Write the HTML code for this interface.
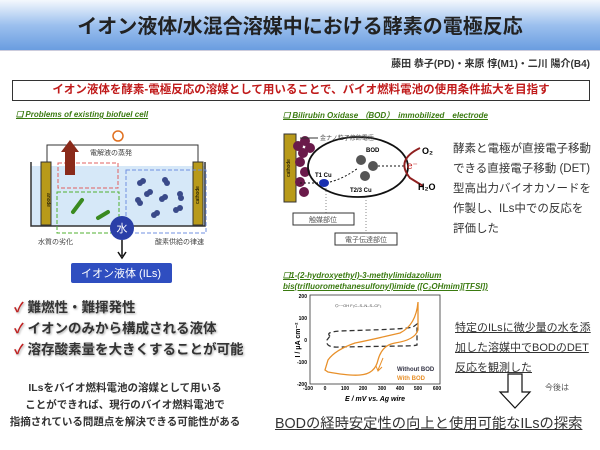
<!DOCTYPE html><html><head><meta charset="utf-8"><style>
body{margin:0;width:600px;height:450px;position:relative;background:#fff;font-family:"Liberation Sans","Noto Sans CJK JP",sans-serif;overflow:hidden}
.a{position:absolute;white-space:nowrap}
.hd{color:#3a7a10;font-style:italic;font-weight:bold;text-decoration:underline;font-size:8px}
</style></head><body>
<div class="a" style="left:0;top:0;width:600px;height:50px;background:linear-gradient(#f4f8fd,#9cc0ee 50%,#6a9de0);border-bottom:1px solid #ccd"></div>
<div class="a" style="left:0;top:10px;width:600px;text-align:center;font-size:20px;font-weight:bold;color:#222">イオン液体/水混合溶媒中における酵素の電極反応</div>
<div class="a" style="right:10px;top:55px;font-size:10px;font-weight:bold;color:#333">藤田 恭子(PD)・来原 惇(M1)・二川 陽介(B4)</div>
<div class="a" style="left:12px;top:80px;width:576px;height:19px;border:1px solid #333;color:#c01a1a;font-weight:bold;font-size:11.5px;text-align:center;line-height:19px">イオン液体を酵素-電極反応の溶媒として用いることで、バイオ燃料電池の使用条件拡大を目指す</div>
<div class="a hd" style="left:16px;top:110px">❑ Problems of existing biofuel cell</div>
<div class="a hd" style="left:283px;top:110px">❑ Bilirubin Oxidase （BOD）　immobilized　electrode</div>
<svg class="a" style="left:0;top:0" width="600" height="450">
<rect x="31" y="166" width="174" height="60" fill="#d6e8f8"/>
<path d="M31 162V226H205V162" fill="none" stroke="#333" stroke-width="1.5"/>
<path d="M47 163V145H198V163" fill="none" stroke="#333"/>
<circle cx="118" cy="136" r="5" fill="#fff" stroke="#e07020" stroke-width="1.5"/>
<rect x="41" y="162" width="10" height="63" fill="#b89a1a" stroke="#333"/>
<rect x="193" y="162" width="10" height="63" fill="#b89a1a" stroke="#333"/>
<text x="47" y="200" font-size="5" transform="rotate(90 47 200)" text-anchor="middle">anode</text>
<text x="199" y="195" font-size="5" transform="rotate(-90 199 195)" text-anchor="middle">cathode</text>
<rect x="58" y="163" width="60" height="25" fill="none" stroke="#e06060" stroke-dasharray="4,2"/>
<rect x="57" y="192" width="62" height="41" fill="none" stroke="#50b030" stroke-dasharray="4,2"/>
<rect x="126" y="170" width="80" height="63" fill="none" stroke="#7090e0" stroke-dasharray="4,2"/>
<path d="M65 175V152H61L70 140L79 152H75V175Z" fill="#8a2a1a"/>
<line x1="73" y1="212" x2="82" y2="200" stroke="#3a8a20" stroke-width="4" stroke-linecap="round"/>
<line x1="98" y1="218" x2="108" y2="212" stroke="#3a8a20" stroke-width="4" stroke-linecap="round"/>
<g fill="#3a4a8a"><circle cx="140" cy="183" r="3"/><circle cx="143" cy="181" r="3"/><circle cx="165" cy="180" r="3"/><circle cx="167" cy="183" r="3"/><circle cx="147" cy="194" r="3"/><circle cx="150" cy="192" r="3"/><circle cx="138" cy="200" r="3"/><circle cx="140" cy="203" r="3"/><circle cx="162" cy="199" r="3"/><circle cx="165" cy="197" r="3"/><circle cx="180" cy="194" r="3"/><circle cx="181" cy="198" r="3"/><circle cx="176" cy="210" r="3"/><circle cx="180" cy="208" r="3"/><circle cx="154" cy="215" r="3"/><circle cx="157" cy="213" r="3"/></g>
<circle cx="122" cy="228" r="12" fill="#2a3fa8"/>
<text x="122" y="232" font-size="11" fill="#fff" text-anchor="middle">水</text>
<path d="M122 240V256M118 252L122 258L126 252" stroke="#111" stroke-width="1.5" fill="none"/>
<rect x="71" y="263" width="101" height="20" rx="2" fill="#2f4ec0"/>
<text x="121" y="277" font-size="11" fill="#fff" text-anchor="middle">イオン液体 (ILs)</text>
<text x="90" y="155" font-size="7" fill="#444">電解液の蒸発</text>
<text x="38" y="244" font-size="7" fill="#444">水質の劣化</text>
<text x="155" y="244" font-size="7" fill="#444">酸素供給の律速</text>
<rect x="284" y="134" width="12" height="68" fill="#b89a1a" stroke="#333"/>
<text x="290" y="168" font-size="5" transform="rotate(-90 290 168)" text-anchor="middle">cathode</text>
<g fill="#6a1a4a"><circle cx="298" cy="146" r="5"/><circle cx="305" cy="141" r="5"/><circle cx="303" cy="153" r="5"/><circle cx="300" cy="162" r="5"/><circle cx="305" cy="172" r="5"/><circle cx="300" cy="182" r="5"/><circle cx="304" cy="192" r="5"/><circle cx="310" cy="148" r="5"/></g>
<ellipse cx="358" cy="167" rx="50" ry="30" fill="none" stroke="#111" stroke-width="1.8"/>
<ellipse cx="324" cy="183" rx="5" ry="4" fill="#1a30b0"/>
<circle cx="361" cy="160" r="5" fill="#555"/><circle cx="373" cy="166" r="5" fill="#555"/><circle cx="365" cy="176" r="5" fill="#555"/>
<path d="M300 183L320 183M330 182Q345 178 358 168M378 166L405 166" stroke="#111" stroke-dasharray="2,2" fill="none"/>
<text x="407" y="169" font-size="10" fill="#c02020">e⁻</text>
<path d="M420 148Q395 160 410 178L423 186" stroke="#902020" stroke-width="2" fill="none"/>
<text x="422" y="154" font-size="9" font-weight="bold">O₂</text>
<text x="418" y="190" font-size="9" font-weight="bold">H₂O</text>
<text x="320" y="140" font-size="6" fill="#444">金ナノ粒子修飾電極</text>
<line x1="300" y1="138" x2="318" y2="138" stroke="#333"/>
<text x="366" y="152" font-size="6" font-weight="bold">BOD</text>
<text x="315" y="177" font-size="6" font-weight="bold">T1 Cu</text>
<text x="350" y="192" font-size="6" font-weight="bold">T2/3 Cu</text>
<path d="M326 188V213M366 200V233" stroke="#888" stroke-dasharray="1,2"/>
<rect x="293" y="213" width="61" height="12" fill="#fff" stroke="#333"/>
<text x="323" y="222" font-size="7" fill="#555" text-anchor="middle">触媒部位</text>
<rect x="335" y="233" width="62" height="12" fill="#fff" stroke="#333"/>
<text x="366" y="242" font-size="7" fill="#555" text-anchor="middle">電子伝達部位</text>
<rect x="310" y="295" width="130" height="89" fill="none" stroke="#333" stroke-width="0.8"/>
<g font-size="5" font-weight="bold" text-anchor="end"><text x="307" y="298">200</text><text x="307" y="320">100</text><text x="307" y="342">0</text><text x="307" y="364">-100</text><text x="307" y="386">-200</text></g>
<g font-size="5" font-weight="bold" text-anchor="middle"><text x="308" y="390">-100</text><text x="325" y="390">0</text><text x="345" y="390">100</text><text x="363" y="390">200</text><text x="382" y="390">300</text><text x="400" y="390">400</text><text x="418" y="390">500</text><text x="437" y="390">600</text></g>
<text x="375" y="401" font-size="7" font-weight="bold" text-anchor="middle" font-style="italic">E / mV vs. Ag wire</text>
<text x="300" y="340" font-size="7" font-weight="bold" transform="rotate(-90 300 340)" text-anchor="middle">I / μA cm⁻²</text>
<path d="M330 336Q325 332 340 331L370 330Q405 329 413 327L417 324V345Q414 346 400 346L340 347Q325 348 327 340Z" fill="none" stroke="#333" stroke-width="1.3" stroke-dasharray="5,3"/>
<path d="M418 302Q416 325 400 333Q370 340 355 343Q335 350 328 360L325 370L328 372Q350 376 360 375Q375 374 378 360Q382 345 395 343Q415 340 418 330Z" fill="none" stroke="#e8902a" stroke-width="1.3"/>
<path d="M383 358L378 370M376 366L378 371L382 367" stroke="#e8902a" fill="none"/>
<text x="397" y="371" font-size="6" font-weight="bold" fill="#334">Without BOD</text>
<text x="397" y="380" font-size="6" font-weight="bold" fill="#e8902a">With BOD</text>
<text x="335" y="307" font-size="4" fill="#444">⌬~~OH  F₃C–S–N–S–CF₃</text>
<path d="M508 374H522V392H530L515 408L500 392H508Z" fill="#fff" stroke="#111" stroke-width="1.2"/>
</svg>
<div class="a hd" style="left:283px;top:270px;line-height:11px">❑1-(2-hydroxyethyl)-3-methylimidazolium<br>bis(trifluoromethanesulfonyl)imide ([C₂OHmim][TFSI])</div>
<div class="a" style="left:453px;top:139px;font-size:11.5px;line-height:20px;color:#333">酵素と電極が直接電子移動<br>できる直接電子移動 (DET)<br>型高出力バイオカソードを<br>作製し、ILs中での反応を<br>評価した</div>
<div class="a" style="left:455px;top:318px;font-size:11px;line-height:20px;color:#333;text-decoration:underline">特定のILsに微少量の水を添<br>加した溶媒中でBODのDET<br>反応を観測した</div>
<div class="a" style="left:545px;top:382px;font-size:8px;color:#555">今後は</div>
<div class="a" style="left:275px;top:412px;font-size:14.3px;color:#333;text-decoration:underline">BODの経時安定性の向上と使用可能なILsの探索</div>
<div class="a" style="left:14px;top:297px;font-size:13.5px;font-weight:bold;line-height:21px;color:#333;text-shadow:1px 1px 2px #aaa"><span style="color:#c02020">✓</span> 難燃性・難揮発性<br><span style="color:#c02020">✓</span> イオンのみから構成される液体<br><span style="color:#c02020">✓</span> 溶存酸素量を大きくすることが可能</div>
<div class="a" style="left:0;top:380px;width:250px;text-align:center;font-size:10.5px;font-weight:bold;line-height:17px;color:#333">ILsをバイオ燃料電池の溶媒として用いる<br>ことができれば、現行のバイオ燃料電池で<br>指摘されている問題点を解決できる可能性がある</div>
</body></html>
